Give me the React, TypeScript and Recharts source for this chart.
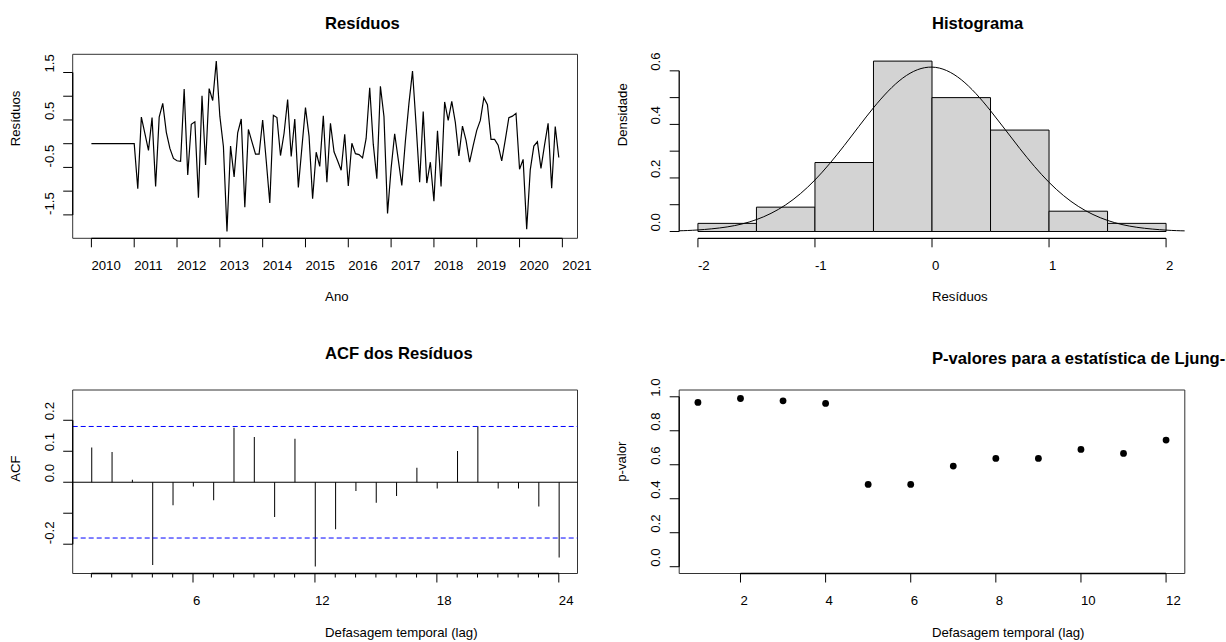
import React from 'react'
import {
  LineChart, Line, ComposedChart, Bar, ScatterChart, Scatter,
  XAxis, YAxis, ReferenceArea, ReferenceLine,
} from 'recharts'

const FONT = '"Liberation Sans", Arial, Helvetica, sans-serif'
const FS = 13.2
const FS_TITLE = 16.6

// resíduos mensais, jan/2010 a dez/2020 (os 13 primeiros são zero por causa das diferenças)
const RESIDUOS = [
  0, 0, 0, 0, 0, 0, 0, 0, 0, 0, 0, 0, 0,
  -0.95, 0.56, 0.21, -0.14, 0.55, -0.90, 0.56, 0.85, 0.24, -0.10, -0.31, -0.36, -0.37,
  1.15, -0.66, 0.41, 0.46, -1.14, 1.01, -0.45, 1.16, 0.91, 1.74, 0.58, -0.06, -1.85,
  -0.05, -0.70, 0.23, 0.52, -1.34, 0.30, 0.04, -0.22, -0.22, 0.50, -0.36, -1.25, 0.60,
  0.55, -0.25, 0.22, 0.93, -0.27, 0.52, -0.92, -0.08, 0.76, 0.16, -1.16, -0.18, -0.48,
  0.59, -0.81, 0.43, -0.17, -0.36, -0.56, 0.20, -0.89, 0.01, -0.21, -0.23, -0.30, 0.11,
  1.18, -0.01, -0.74, 1.21, 0.57, -1.47, -0.52, 0.21, -0.33, -0.88, 0.05, 0.85, 1.53,
  0.40, -0.81, 0.68, -0.83, -0.39, -1.21, 0.27, -0.90, 0.88, 0.49, 0.89, 0.45, -0.26,
  0.37, 0.07, -0.39, -0.04, 0.28, 0.49, 0.97, 0.82, 0.09, 0.09, -0.03, -0.36, 0.08,
  0.55, 0.58, 0.64, -0.54, -0.33, -1.80, -0.55, -0.05, 0.04, -0.52, -0.03, 0.43, -0.94, 0.36, -0.29,
]
const ANO_INICIO = 2010
const ANOS = [2010, 2011, 2012, 2013, 2014, 2015, 2016, 2017, 2018, 2019, 2020, 2021]
const RES_TICKS = [-1.5, -1, -0.5, 0, 0.5, 1, 1.5]
const RES_LABELS = [-1.5, -0.5, 0.5, 1.5]

// histograma (densidade por classe de 0.5)
const CLASSES_INI = [-2, -1.5, -1, -0.5, 0, 0.5, 1, 1.5]
const CLASSES_FIM = [-1.5, -1, -0.5, 0, 0.5, 1, 1.5, 2]
const DENSIDADE = [0.0303, 0.0909, 0.2576, 0.6364, 0.5, 0.3788, 0.0758, 0.0303]
const HIST_X_TICKS = [-2, -1, 0, 1, 2]
const HIST_Y_TICKS = [0, 0.1, 0.2, 0.3, 0.4, 0.5, 0.6]
const HIST_Y_LABELS = [0, 0.2, 0.4, 0.6]
// curva normal sobreposta
const CURVA_X = [-2.16, -2, -1.75, -1.5, -1.25, -1, -0.75, -0.5, -0.25, 0, 0.25, 0.5, 0.75, 1, 1.25, 1.5, 1.75, 2, 2.16]
const CURVA_Y = [0.0026, 0.0057, 0.0171, 0.0444, 0.0995, 0.1924, 0.321, 0.462, 0.573, 0.614, 0.567, 0.451, 0.31, 0.1836, 0.0938, 0.0413, 0.0157, 0.0051, 0.0023]

// ACF
const LAGS = [1, 2, 3, 4, 5, 6, 7, 8, 9, 10, 11, 12, 13, 14, 15, 16, 17, 18, 19, 20, 21, 22, 23, 24]
const ACF = [
  0.112, 0.098, 0.008, -0.267, -0.074, -0.014, -0.058, 0.176, 0.146, -0.112, 0.140, -0.272,
  -0.152, -0.028, -0.066, -0.044, 0.047, -0.020, 0.101, 0.181, -0.020, -0.020, -0.078, -0.243,
]
const ACF_LIMITE = 0.18
const ACF_X_LABELS = [6, 12, 18, 24]
const ACF_Y_TICKS = [-0.2, -0.1, 0, 0.1, 0.2]
const ACF_Y_LABELS = [-0.2, 0, 0.1, 0.2]

// Ljung-Box
const LB_LAGS = [1, 2, 3, 4, 5, 6, 7, 8, 9, 10, 11, 12]
const LB_PVALOR = [0.967, 0.99, 0.976, 0.961, 0.484, 0.484, 0.592, 0.637, 0.637, 0.69, 0.667, 0.745]
const LB_X_TICKS = [2, 4, 6, 8, 10, 12]
const LB_Y_TICKS = [0, 0.2, 0.4, 0.6, 0.8, 1]

const serieData = RESIDUOS.map((r, i) => ({ t: ANO_INICIO + i / 12, r }))
const curvaData = CURVA_X.map((x, i) => ({ x, d: CURVA_Y[i] }))
const acfData = LAGS.map((lag, i) => ({ lag, acf: ACF[i] }))
const lbData = LB_LAGS.map((lag, i) => ({ lag, p: LB_PVALOR[i] }))

const X_TICK_SIZE = 9
const X_TICK_MARGIN = 22.7
const Y_TICK_SIZE = 9.5
const Y_TICK_MARGIN = 9.5
const AXIS_H = 40
const BOX = '#333'

type TickOpts = { labels?: number[]; fmt: (v: number) => string; long?: number; short?: number }

// R desenhou os rótulos ancorados no início do texto, não no centro
function xTick(o: TickOpts) {
  return (p: any) => {
    const v = p.payload.value
    const labeled = !o.labels || o.labels.includes(v)
    const y0 = p.y - X_TICK_SIZE - X_TICK_MARGIN
    const len = labeled ? (o.long ?? 9) : (o.short ?? 4)
    return (
      <g key={`x-${v}`}>
        <line x1={p.x} x2={p.x} y1={y0} y2={y0 + len} stroke="#000" strokeWidth={1} />
        {labeled && (
          <text x={p.x} y={p.y} textAnchor="start" fontSize={FS} fontFamily={FONT} fill="#000">
            {o.fmt(v)}
          </text>
        )}
      </g>
    )
  }
}

function yTick(o: TickOpts) {
  return (p: any) => {
    const v = p.payload.value
    const labeled = !o.labels || o.labels.includes(v)
    const x0 = p.x + Y_TICK_SIZE + Y_TICK_MARGIN
    return (
      <g key={`y-${v}`}>
        <line x1={x0} x2={x0 - Y_TICK_SIZE} y1={p.y} y2={p.y} stroke="#000" strokeWidth={1} />
        {labeled && (
          <text
            x={p.x} y={p.y} transform={`rotate(-90 ${p.x} ${p.y})`}
            textAnchor="start" fontSize={FS} fontFamily={FONT} fill="#000"
          >
            {o.fmt(v)}
          </text>
        )}
      </g>
    )
  }
}

const f1 = (v: number) => v.toFixed(1)
const f0 = (v: number) => String(v)

const TITULOS = [
  { text: 'Resíduos', x: 325.1, y: 29.3 },
  { text: 'Histograma', x: 932, y: 29.3 },
  { text: 'ACF dos Resíduos', x: 325.1, y: 359 },
  { text: 'P-valores para a estatística de Ljung-Box', x: 932, y: 363.5 },
]
const EIXOS_X = [
  { text: 'Ano', x: 325.1, y: 301 },
  { text: 'Resíduos', x: 932, y: 301 },
  { text: 'Defasagem temporal (lag)', x: 325.1, y: 637 },
  { text: 'Defasagem temporal (lag)', x: 932, y: 637 },
]
const EIXOS_Y = [
  { text: 'Resíduos', x: 20.4, y: 146.3 },
  { text: 'Densidade', x: 627.5, y: 146.3 },
  { text: 'ACF', x: 20.4, y: 481.8 },
  { text: 'p-valor', x: 626.5, y: 481.8 },
]

function ResiduosPlot() {
  const xd: [number, number] = [2009.5633, 2021.3533]
  const yd: [number, number] = [-1.9936, 1.8836]
  return (
    <LineChart width={613} height={321} data={serieData}
      margin={{ top: 54.3, right: 35.5, bottom: 321 - 238.3 - AXIS_H, left: 0 }}>
      <XAxis type="number" dataKey="t" domain={xd} ticks={ANOS} interval={0} allowDataOverflow
        height={AXIS_H} axisLine={false} tickLine={false} tickSize={X_TICK_SIZE} tickMargin={X_TICK_MARGIN}
        tick={xTick({ fmt: f0, long: 9 })} />
      <YAxis type="number" domain={yd} ticks={RES_TICKS} interval={0} allowDataOverflow
        width={72.7} axisLine={false} tickLine={false} tickSize={Y_TICK_SIZE} tickMargin={Y_TICK_MARGIN}
        tick={yTick({ labels: RES_LABELS, fmt: f1 })} />
      <ReferenceArea x1={xd[0]} x2={xd[1]} y1={yd[0]} y2={yd[1]} fill="none" stroke={BOX} ifOverflow="visible" />
      <ReferenceLine segment={[{ x: 2010, y: yd[0] }, { x: 2021, y: yd[0] }]} stroke="#000" strokeWidth={1.3} ifOverflow="visible" />
      <ReferenceLine segment={[{ x: xd[0], y: -1.5 }, { x: xd[0], y: 1.5 }]} stroke="#000" strokeWidth={1.3} ifOverflow="visible" />
      <Line type="linear" dataKey="r" stroke="#000" strokeWidth={1.2} dot={false} isAnimationActive={false} />
    </LineChart>
  )
}

function HistogramaPlot() {
  const xd: [number, number] = [-2.16, 2.16]
  const yd: [number, number] = [-0.02545, 0.6618]
  return (
    <ComposedChart width={613} height={321} data={curvaData}
      margin={{ top: 54.3, right: 41.2, bottom: 321 - 238.3 - AXIS_H, left: 0 }}>
      <XAxis type="number" dataKey="x" domain={xd} ticks={HIST_X_TICKS} interval={0} allowDataOverflow
        height={AXIS_H} axisLine={false} tickLine={false} tickSize={X_TICK_SIZE} tickMargin={X_TICK_MARGIN}
        tick={xTick({ fmt: f0, long: 9 })} />
      <YAxis type="number" domain={yd} ticks={HIST_Y_TICKS} interval={0} allowDataOverflow
        width={66.2} axisLine={false} tickLine={false} tickSize={Y_TICK_SIZE} tickMargin={Y_TICK_MARGIN}
        tick={yTick({ labels: HIST_Y_LABELS, fmt: f1 })} />
      {DENSIDADE.map((d, i) => (
        <ReferenceArea key={i} x1={CLASSES_INI[i]} x2={CLASSES_FIM[i]} y1={0} y2={d}
          fill="#D3D3D3" fillOpacity={1} stroke="#000" strokeWidth={1} ifOverflow="visible" />
      ))}
      <ReferenceLine segment={[{ x: -2, y: yd[0] }, { x: 2, y: yd[0] }]} stroke="#000" strokeWidth={1.3} ifOverflow="visible" />
      <ReferenceLine segment={[{ x: xd[0], y: 0 }, { x: xd[0], y: 0.6 }]} stroke="#000" strokeWidth={1.3} ifOverflow="visible" />
      <Line type="natural" dataKey="d" stroke="#000" strokeWidth={1} dot={false} isAnimationActive={false} />
    </ComposedChart>
  )
}

function AcfPlot() {
  const xd: [number, number] = [0.08, 24.92]
  const yd: [number, number] = [-0.2945, 0.2977]
  return (
    <ComposedChart width={613} height={321} data={acfData}
      margin={{ top: 69, right: 35.5, bottom: 321 - 69 - 183.5 - AXIS_H, left: 0 }}>
      <XAxis type="number" dataKey="lag" domain={xd} ticks={LAGS} interval={0} allowDataOverflow
        height={AXIS_H} axisLine={false} tickLine={false} tickSize={X_TICK_SIZE} tickMargin={X_TICK_MARGIN}
        tick={xTick({ labels: ACF_X_LABELS, fmt: f0, long: 9, short: 4 })} />
      <YAxis type="number" domain={yd} ticks={ACF_Y_TICKS} interval={0} allowDataOverflow
        width={72.7} axisLine={false} tickLine={false} tickSize={Y_TICK_SIZE} tickMargin={Y_TICK_MARGIN}
        tick={yTick({ labels: ACF_Y_LABELS, fmt: f1 })} />
      <ReferenceArea x1={xd[0]} x2={xd[1]} y1={yd[0]} y2={yd[1]} fill="none" stroke={BOX} ifOverflow="visible" />
      <ReferenceLine y={0} stroke="#000" strokeWidth={1} />
      <ReferenceLine y={ACF_LIMITE} stroke="#0000FF" strokeWidth={1} strokeDasharray="5 3" />
      <ReferenceLine y={-ACF_LIMITE} stroke="#0000FF" strokeWidth={1} strokeDasharray="5 3" />
      <ReferenceLine segment={[{ x: 1, y: yd[0] }, { x: 24, y: yd[0] }]} stroke="#000" strokeWidth={1.3} ifOverflow="visible" />
      <ReferenceLine segment={[{ x: xd[0], y: -0.2 }, { x: xd[0], y: 0.2 }]} stroke="#000" strokeWidth={1.3} ifOverflow="visible" />
      <Bar dataKey="acf" barSize={1} fill="#000" isAnimationActive={false} />
    </ComposedChart>
  )
}

function LjungBoxPlot() {
  const xd: [number, number] = [0.56, 12.44]
  const yd: [number, number] = [-0.04, 1.04]
  return (
    <ScatterChart width={613} height={321}
      margin={{ top: 69, right: 41.2, bottom: 321 - 69 - 183.5 - AXIS_H, left: 0 }}>
      <XAxis type="number" dataKey="lag" domain={xd} ticks={LB_X_TICKS} interval={0} allowDataOverflow
        height={AXIS_H} axisLine={false} tickLine={false} tickSize={X_TICK_SIZE} tickMargin={X_TICK_MARGIN}
        tick={xTick({ fmt: f0, long: 9 })} />
      <YAxis type="number" dataKey="p" domain={yd} ticks={LB_Y_TICKS} interval={0} allowDataOverflow
        width={66.2} axisLine={false} tickLine={false} tickSize={Y_TICK_SIZE} tickMargin={Y_TICK_MARGIN}
        tick={yTick({ fmt: f1 })} />
      <ReferenceArea x1={xd[0]} x2={xd[1]} y1={yd[0]} y2={yd[1]} fill="none" stroke={BOX} ifOverflow="visible" />
      <ReferenceLine segment={[{ x: 2, y: yd[0] }, { x: 12, y: yd[0] }]} stroke="#000" strokeWidth={1.3} ifOverflow="visible" />
      <ReferenceLine segment={[{ x: xd[0], y: 0 }, { x: xd[0], y: 1 }]} stroke="#000" strokeWidth={1.3} ifOverflow="visible" />
      <Scatter data={lbData} fill="#000" isAnimationActive={false}
        shape={(p: any) => <circle cx={p.cx} cy={p.cy} r={3.4} fill="#000" />} />
    </ScatterChart>
  )
}

export default function App() {
  const cell = (left: number, top: number): React.CSSProperties => ({ position: 'absolute', left, top })
  return (
    <div style={{ position: 'absolute', left: 0, top: 0, width: 1226, height: 642, background: '#fff', overflow: 'hidden' }}>
      <div style={cell(0, 0)}><ResiduosPlot /></div>
      <div style={cell(613, 0)}><HistogramaPlot /></div>
      <div style={cell(0, 321)}><AcfPlot /></div>
      <div style={cell(613, 321)}><LjungBoxPlot /></div>
      <svg width={1226} height={642} style={{ position: 'absolute', left: 0, top: 0, pointerEvents: 'none' }}>
        {TITULOS.map((t, i) => (
          <text key={`t${i}`} x={t.x} y={t.y} textAnchor="start" fontSize={FS_TITLE} fontWeight="bold" fontFamily={FONT} fill="#000">
            {t.text}
          </text>
        ))}
        {EIXOS_X.map((t, i) => (
          <text key={`x${i}`} x={t.x} y={t.y} textAnchor="start" fontSize={FS} fontFamily={FONT} fill="#000">
            {t.text}
          </text>
        ))}
        {EIXOS_Y.map((t, i) => (
          <text key={`y${i}`} x={t.x} y={t.y} transform={`rotate(-90 ${t.x} ${t.y})`} textAnchor="start"
            fontSize={FS} fontFamily={FONT} fill="#000">
            {t.text}
          </text>
        ))}
      </svg>
    </div>
  )
}
